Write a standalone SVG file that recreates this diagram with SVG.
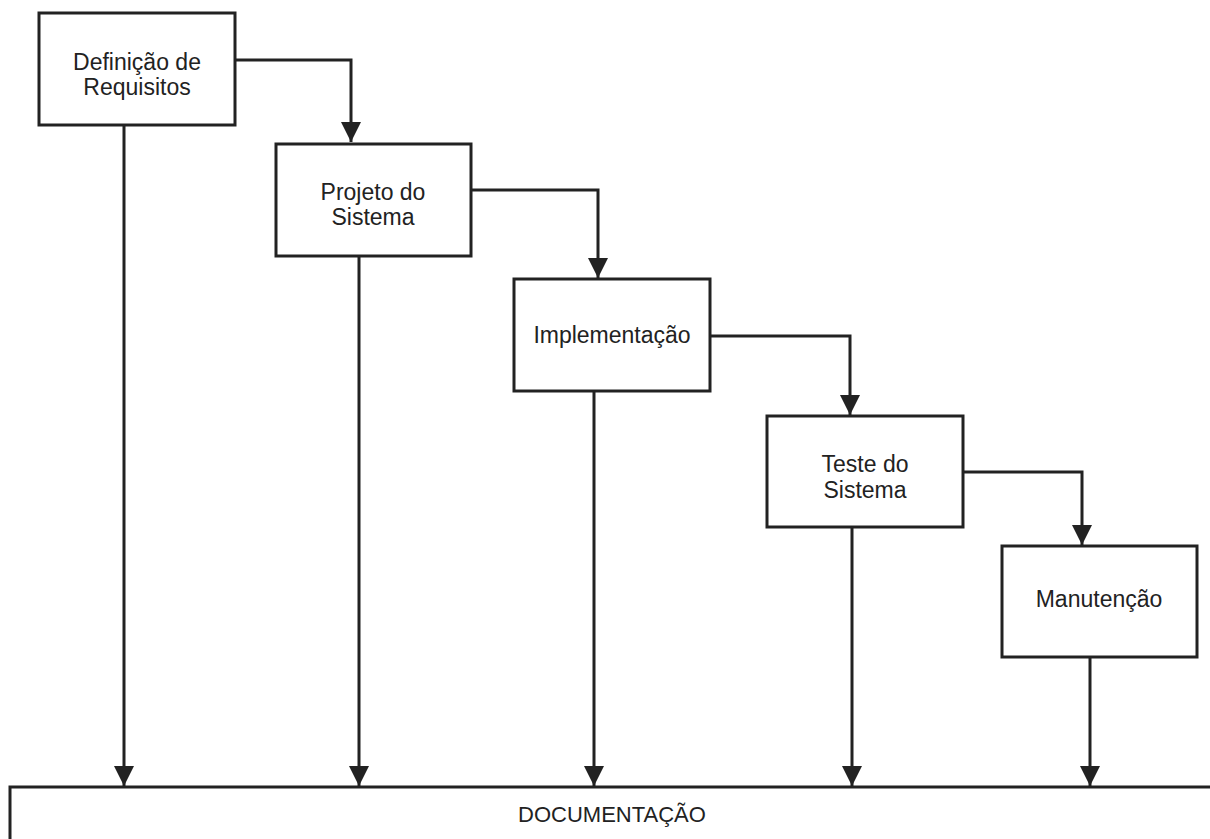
<svg xmlns="http://www.w3.org/2000/svg" width="1210" height="839" viewBox="0 0 1210 839">
<defs>
<style>
.box{fill:#fff;stroke:#222;stroke-width:3}
.lbl{font-family:"Liberation Sans",Arial,sans-serif;font-size:23px;fill:#222;text-anchor:middle}
.con{fill:none;stroke:#222;stroke-width:3}
</style>
<marker id="ah" viewBox="0 0 20 20" refX="20" refY="10" markerWidth="20" markerHeight="20" markerUnits="userSpaceOnUse" orient="auto">
<path d="M0,0 L20,10 L0,20 Z" fill="#222"/>
</marker>
</defs>
<rect width="1210" height="839" fill="#fff"/>
<g id="connectors">
<path class="con" d="M235,60 H351 V142" marker-end="url(#ah)"/>
<path class="con" d="M471,190 H598 V278" marker-end="url(#ah)"/>
<path class="con" d="M710,336 H850 V415" marker-end="url(#ah)"/>
<path class="con" d="M963,472 H1082 V545" marker-end="url(#ah)"/>
<path class="con" d="M124,125 V786" marker-end="url(#ah)"/>
<path class="con" d="M359,256 V786" marker-end="url(#ah)"/>
<path class="con" d="M594,391 V786" marker-end="url(#ah)"/>
<path class="con" d="M852,527 V786" marker-end="url(#ah)"/>
<path class="con" d="M1090,657 V786" marker-end="url(#ah)"/>
</g>
<g id="n1">
<rect class="box" x="39" y="13" width="196" height="112"/>
<text class="lbl" x="137" y="70">Definição de</text>
<text class="lbl" x="137" y="95">Requisitos</text>
</g>
<g id="n2">
<rect class="box" x="276" y="144" width="195" height="112"/>
<text class="lbl" x="373" y="200">Projeto do</text>
<text class="lbl" x="373" y="225">Sistema</text>
</g>
<g id="n3">
<rect class="box" x="514" y="279" width="196" height="112"/>
<text class="lbl" x="612" y="343">Implementação</text>
</g>
<g id="n4">
<rect class="box" x="767" y="416" width="196" height="111"/>
<text class="lbl" x="865" y="472">Teste do</text>
<text class="lbl" x="865" y="498">Sistema</text>
</g>
<g id="n5">
<rect class="box" x="1002" y="546" width="195" height="111"/>
<text class="lbl" x="1099" y="607">Manutenção</text>
</g>
<g id="doc">
<path class="con" d="M10,845 V787 H1215"/>
<text class="lbl" x="612" y="822" style="font-size:22px">DOCUMENTAÇÃO</text>
</g>
</svg>
